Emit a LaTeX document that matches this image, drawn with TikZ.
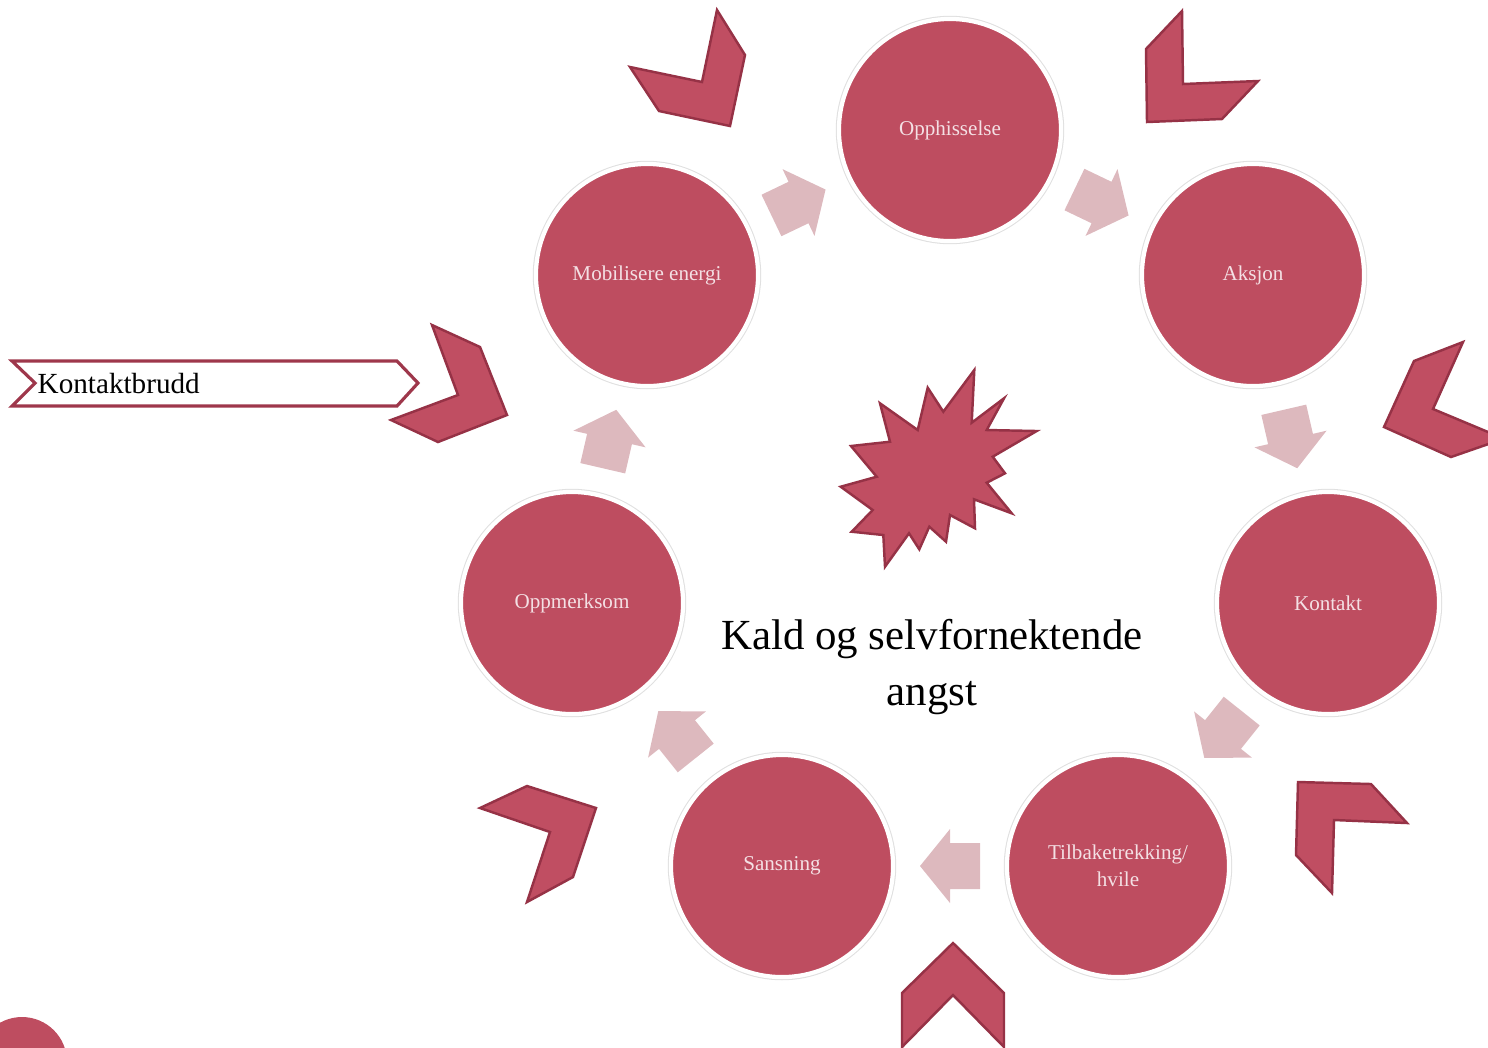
\documentclass[tikz,border=0pt]{standalone}
\usepackage{fontspec}
\setmainfont{Liberation Serif}
\usetikzlibrary{calc}

\definecolor{circ}{RGB}{190,77,96}
\definecolor{circtext}{RGB}{244,224,228}
\definecolor{chevfill}{RGB}{192,78,98}
\definecolor{chevline}{RGB}{150,50,70}
\definecolor{flowfill}{RGB}{221,185,190}
\definecolor{bannerline}{RGB}{158,55,75}

\tikzset{
  phase/.style={circle, fill=circ, draw=white, line width=1.2pt,
    preaction={draw=black!12, line width=1.8pt},
    minimum size=2.22cm, inner sep=0pt, text=circtext, align=center,
    font=\fontsize{6}{7.7}\selectfont},
  chev/.style={fill=chevfill, draw=chevline, line width=0.7pt, line join=miter},
  pics/flow/.style={code={
    \fill[flowfill] (-30,-23) -- (0,-23) -- (0,-37) -- (30,0) -- (0,37)
      -- (0,23) -- (-30,23) -- cycle;}}
}

\begin{document}
\begin{tikzpicture}[x=0.01cm,y=-0.01cm]
\useasboundingbox (0,0) rectangle (1488,1047);
\clip (0,0) rectangle (1488,1047);

% the cycle
\node[phase] (opph) at (950,130) {Opphisselse};
\node[phase] (aksj) at (1253,275) {Aksjon};
\node[phase] (kont) at (1328,603) {Kontakt};
\node[phase] (tilb) at (1118,866) {Tilbaketrekking/\\hvile};
\node[phase] (sans) at (782,866) {Sansning};
\node[phase] (oppm) at (572,603) {Oppmerksom};
\node[phase] (mobi) at (647,275) {Mobilisere energi};

\pic[rotate=25.6] at ($(mobi)!0.5!(opph)$) {flow};
\pic[rotate=-25.6] at ($(opph)!0.5!(aksj)$) {flow};
\pic[rotate=-77] at ($(aksj)!0.5!(kont)$) {flow};
\pic[rotate=-128.6] at ($(kont)!0.5!(tilb)$) {flow};
\pic[rotate=180] at ($(tilb)!0.5!(sans)$) {flow};
\pic[rotate=128.6] at ($(sans)!0.5!(oppm)$) {flow};
\pic[rotate=77] at ($(oppm)!0.5!(mobi)$) {flow};

% chevrons round the cycle
\draw[chev] (717,10) -- (745,55) -- (730,126) -- (659,111) -- (630,67) -- (702,82) -- cycle;
\draw[chev] (1182,11) -- (1146,49) -- (1147,122) -- (1222,119) -- (1258,81) -- (1183,84) -- cycle;
\draw[chev] (1463,342) -- (1414,361) -- (1384,427) -- (1451,457) -- (1500,440) -- (1500,437) -- (1433,409) -- cycle;
\draw[chev] (1298,782) -- (1371,784) -- (1407,823) -- (1334,820) -- (1332,893) -- (1296,855) -- cycle;
\draw[chev] (953,943) -- (1004,993) -- (1004,1047) -- (953,995) -- (902,1047) -- (902,993) -- cycle;
\draw[chev] (480,808) -- (527,786) -- (596,808) -- (573,877) -- (527,902) -- (550,832) -- cycle;
\draw[chev] (432,325) -- (480,347) -- (507,415) -- (438,442) -- (391,420) -- (458,395) -- cycle;

% the burst
\draw[chev] (974.3,370) -- (971.7,422.7) -- (1004,398.3) -- (986.7,430) -- (1036.7,431)
  -- (992.7,456.7) -- (1005,473.3) -- (986.7,482.7) -- (1011.7,513.3) -- (974,499.3)
  -- (975,528.3) -- (950,515) -- (946,541.7) -- (929.3,526.7) -- (919.3,549.3)
  -- (909,533.3) -- (885,566.7) -- (883.3,535) -- (851.7,531.7) -- (872.7,510)
  -- (840.7,486.7) -- (876.7,476.7) -- (851,446) -- (890,441.7) -- (880,403.3)
  -- (917.7,430) -- (927.7,387.7) -- (943.3,411.7) -- cycle;

\node[align=center, font=\fontsize{12.2}{16.2}\selectfont] (tittel) at (932,667)
  {Kald og selvfornektende\\angst};

% banner
\draw[bannerline, fill=white, line width=0.9pt] (12,361) -- (397,361) -- (418,383)
  -- (397,406) -- (12,406) -- (35,383) -- cycle;
\node[anchor=west, inner sep=0pt, font=\fontsize{8.3}{9}\selectfont] (brudd) at (37,383) {Kontaktbrudd};

\fill[circ] (22,1062) circle[radius=45];
\end{tikzpicture}
\end{document}
